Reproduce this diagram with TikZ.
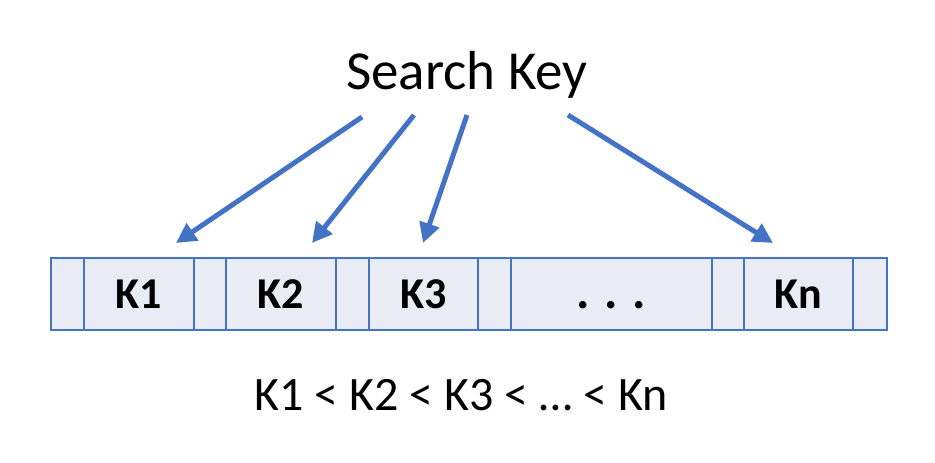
\documentclass[tikz,border=0pt]{standalone}
\usepackage{fontspec}
\setmainfont{Carlito}
\usetikzlibrary{arrows.meta}
\definecolor{ablue}{HTML}{4472C4}
\definecolor{cellfill}{HTML}{E9EBF5}
\tikzset{
  cell/.style={draw=ablue, line width=1.5pt, fill=cellfill, minimum height=72pt, inner sep=0pt, text height=29pt, text depth=0pt, anchor=north west, font=\fontsize{44}{44}\selectfont\bfseries},
  ptr/.style={draw=ablue, line width=5pt, -{Triangle[length=20pt,width=20pt]}}
}
\begin{document}
\begin{tikzpicture}[x=1pt,y=-1pt]
\useasboundingbox (0,0) rectangle (935,463);
\node[cell, minimum width=33pt] (p0) at (50,257) {};
\node[cell, minimum width=110pt] (k1) at (83,257) {K1};
\node[cell, minimum width=32pt] (p1) at (193,257) {};
\node[cell, minimum width=110pt] (k2) at (225,257) {K2};
\node[cell, minimum width=33pt] (p2) at (335,257) {};
\node[cell, minimum width=109pt] (k3) at (368,257) {K3};
\node[cell, minimum width=33pt] (p3) at (477,257) {};
\node[cell, minimum width=201pt, font=\fontsize{50}{50}\selectfont\bfseries] (kd) at (510,257) {. . .};
\node[cell, minimum width=32pt] (p4) at (711,257) {};
\node[cell, minimum width=109pt] (kn) at (743,257) {Kn};
\node[cell, minimum width=34pt] (p5) at (852,257) {};
\node[font=\fontsize{55}{55}\selectfont] (sk) at (467,75) {Search Key};
\node[font=\fontsize{48}{48}\selectfont] (ord) at (461,395) {K1 < K2 < K3 < … < Kn};
\coordinate (s1) at (362,117);
\coordinate (s2) at (414,115);
\coordinate (s3) at (467,115);
\coordinate (s4) at (568,115);
\coordinate (t1) at (176,243);
\coordinate (t2) at (312,243);
\coordinate (t3) at (423,243);
\coordinate (t4) at (773,243);
\draw[ptr] (s1) -- (t1);
\draw[ptr] (s2) -- (t2);
\draw[ptr] (s3) -- (t3);
\draw[ptr] (s4) -- (t4);
\end{tikzpicture}
\end{document}
